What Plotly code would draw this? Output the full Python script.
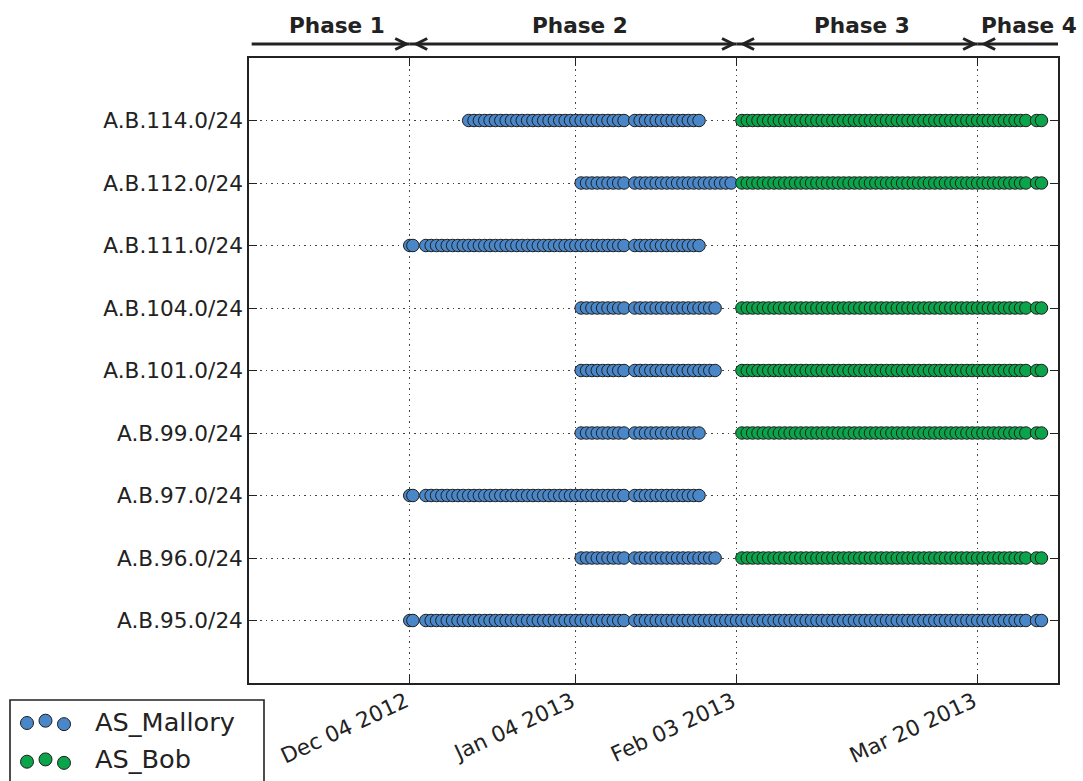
import pandas as pd
import plotly.graph_objects as go

W, H = 1083, 781

# ---------------- data ----------------
categories = ["A.B.95.0/24", "A.B.96.0/24", "A.B.97.0/24", "A.B.99.0/24",
              "A.B.101.0/24", "A.B.104.0/24", "A.B.111.0/24", "A.B.112.0/24",
              "A.B.114.0/24"]

# runs of daily observations (start, end) per prefix, aligned with categories
mallory_runs = [
    [("2012-12-07", "2013-01-13"), ("2013-01-15", "2013-03-29")],  # 95
    [("2013-01-05", "2013-01-13"), ("2013-01-15", "2013-01-30")],  # 96
    [("2012-12-07", "2013-01-13"), ("2013-01-15", "2013-01-27")],  # 97
    [("2013-01-05", "2013-01-13"), ("2013-01-15", "2013-01-27")],  # 99
    [("2013-01-05", "2013-01-13"), ("2013-01-15", "2013-01-30")],  # 101
    [("2013-01-05", "2013-01-13"), ("2013-01-15", "2013-01-30")],  # 104
    [("2012-12-07", "2013-01-13"), ("2013-01-15", "2013-01-27")],  # 111
    [("2013-01-05", "2013-01-13"), ("2013-01-15", "2013-02-02")],  # 112
    [("2012-12-15", "2013-01-13"), ("2013-01-15", "2013-01-27")],  # 114
]
mallory_extra = [
    ["2012-12-04 00:00", "2012-12-04 14:00", "2013-03-31 00:00", "2013-03-31 22:00"],
    [],
    ["2012-12-04 00:00", "2012-12-04 14:00"],
    [], [], [],
    ["2012-12-04 00:00", "2012-12-04 14:00"],
    [], [],
]
bob_runs = [
    [],
    [("2013-02-04", "2013-03-29")],
    [],
    [("2013-02-04", "2013-03-29")],
    [("2013-02-04", "2013-03-29")],
    [("2013-02-04", "2013-03-29")],
    [],
    [("2013-02-04", "2013-03-29")],
    [("2013-02-04", "2013-03-29")],
]
bob_extra = [
    [],
    ["2013-03-31 00:00", "2013-03-31 22:00"],
    [],
    ["2013-03-31 00:00", "2013-03-31 22:00"],
    ["2013-03-31 00:00", "2013-03-31 22:00"],
    ["2013-03-31 00:00", "2013-03-31 22:00"],
    [],
    ["2013-03-31 00:00", "2013-03-31 22:00"],
    ["2013-03-31 00:00", "2013-03-31 22:00"],
]

series_names = ["AS_Mallory", "AS_Bob"]
series_colors = ["#4a87c9", "#0ba44b"]

x_tick_vals = ["2012-12-04", "2013-01-04", "2013-02-03", "2013-03-20"]
x_tick_text = ["Dec 04 2012", "Jan 04 2013", "Feb 03 2013", "Mar 20 2013"]
x_range = ["2012-11-04", "2013-04-04"]

phase_names = ["Phase 1", "Phase 2", "Phase 3", "Phase 4"]
phase_bounds = ["2012-11-04 12:00", "2012-12-04", "2013-02-03", "2013-03-20", "2013-04-04"]
phase_label_x = ["2012-11-20 12:00", "2013-01-04 17:00", "2013-02-26 12:00", "2013-03-29 12:00"]


# ---------------- helpers ----------------
def expand(runs, extra):
    ts = []
    for a, b in runs:
        ts += list(pd.date_range(a, b, freq="D"))
    ts += [pd.Timestamp(e) for e in extra]
    return sorted(ts)


def build(runs_list, extra_list):
    xs, ys = [], []
    for i, (runs, extra) in enumerate(zip(runs_list, extra_list)):
        t = expand(runs, extra)
        xs += t
        ys += [i] * len(t)
    return xs, ys


FONT = "DejaVu Sans"
TXT = "#222222"

fig = go.Figure()

for name, color, runs, extra in [
    (series_names[0], series_colors[0], mallory_runs, mallory_extra),
    (series_names[1], series_colors[1], bob_runs, bob_extra),
]:
    xs, ys = build(runs, extra)
    fig.add_trace(go.Scatter(
        x=xs, y=ys, mode="markers", name=name, showlegend=False,
        marker=dict(size=12.5, color=color, line=dict(color="#1e1e1e", width=1)),
        xaxis="x", yaxis="y", cliponaxis=False,
    ))

# ---------------- legend glyphs on a hidden pixel axis ----------------
legend_dot_x = [27, 45.5, 64]
legend_offsets = [0.375, 0.5, 0.3125]   # matplotlib-like scatter y offsets
legend_rows_base = [781 - 729.9, 781 - 768.6]
for k, color in enumerate(series_colors):
    fig.add_trace(go.Scatter(
        x=legend_dot_x,
        y=[legend_rows_base[k] + f * 18.4 for f in legend_offsets],
        mode="markers", showlegend=False, hoverinfo="skip",
        marker=dict(size=13, color=color, line=dict(color="#1e1e1e", width=1)),
        xaxis="x2", yaxis="y2", cliponaxis=False,
    ))

# ---------------- layout ----------------
x0d, x1d = 249 / W, 1058 / W
y0d, y1d = 1 - 683 / H, 1 - 58 / H

axis_common = dict(
    showline=True, linecolor="#222222", linewidth=1.6, mirror="ticks",
    ticks="inside", ticklen=8, tickwidth=1.3, tickcolor="#222222",
    showgrid=True, gridcolor="#444444", gridwidth=1.1, griddash="1.5px,4px",
    zeroline=False, fixedrange=True,
    tickfont=dict(family=FONT, size=21.6, color=TXT),
)

fig.update_layout(
    width=W, height=H,
    margin=dict(l=0, r=0, t=0, b=0),
    paper_bgcolor="white", plot_bgcolor="rgba(0,0,0,0)",
    showlegend=False,
    xaxis=dict(type="date", range=x_range, domain=[x0d, x1d], anchor="y",
               tickvals=x_tick_vals, ticktext=x_tick_text, tickangle=-25,
               ticklabelshift=-4, ticklabelstandoff=-4,
               **axis_common),
    yaxis=dict(range=[-1, len(categories)], domain=[y0d, y1d], anchor="x",
               tickvals=list(range(len(categories))), ticktext=categories,
               **axis_common),
    xaxis2=dict(domain=[0, 90 / W], range=[0, 90], visible=False,
                anchor="y2", fixedrange=True),
    yaxis2=dict(domain=[0, 90 / H], range=[0, 90], visible=False,
                anchor="x2", fixedrange=True),
)

# legend box and labels
fig.add_shape(type="rect", xref="paper", yref="paper",
              x0=10 / W, x1=264 / W, y0=-0.05, y1=1 - 700 / H,
              line=dict(color="#222222", width=1.6), fillcolor="rgba(0,0,0,0)",
              layer="above")
for k, name in enumerate(series_names):
    fig.add_annotation(xref="paper", yref="paper", x=93 / W,
                       y=1 - [722, 759][k] / H, xanchor="left", yanchor="middle",
                       text=name, showarrow=False,
                       font=dict(family=FONT, size=25.6, color=TXT))

# phase arrows and labels
ARROW_Y = 1 - 44 / H
for i, name in enumerate(phase_names):
    a, b = phase_bounds[i], phase_bounds[i + 1]
    fig.add_shape(type="line", xref="x", yref="paper", x0=a, x1=b,
                  y0=ARROW_Y, y1=ARROW_Y, line=dict(color="#222222", width=3))
    heads = []
    if i > 0:
        heads.append((a, +1))   # left-pointing head at start
    if i < len(phase_names) - 1:
        heads.append((b, -1))   # right-pointing head at end
    for anchor, d in heads:
        tip = 6.5 if d > 0 else -3.5
        back = tip + 11 * d
        path = f"M {back},5.5 L {tip},0 L {back},-5.5"
        fig.add_shape(type="path", xref="x", yref="paper",
                      xsizemode="pixel", ysizemode="pixel",
                      xanchor=anchor, yanchor=ARROW_Y, path=path,
                      line=dict(color="#222222", width=3))
    fig.add_annotation(xref="x", yref="paper", x=phase_label_x[i],
                       y=1 - 25 / H, xanchor="center", yanchor="middle",
                       text=f"<b>{name}</b>", showarrow=False,
                       font=dict(family=FONT, size=21.6, color=TXT))

fig.write_html(
    "out.html",
    config={"displayModeBar": False},
    post_script="document.body.style.margin='0';document.body.style.overflow='hidden';",
)
